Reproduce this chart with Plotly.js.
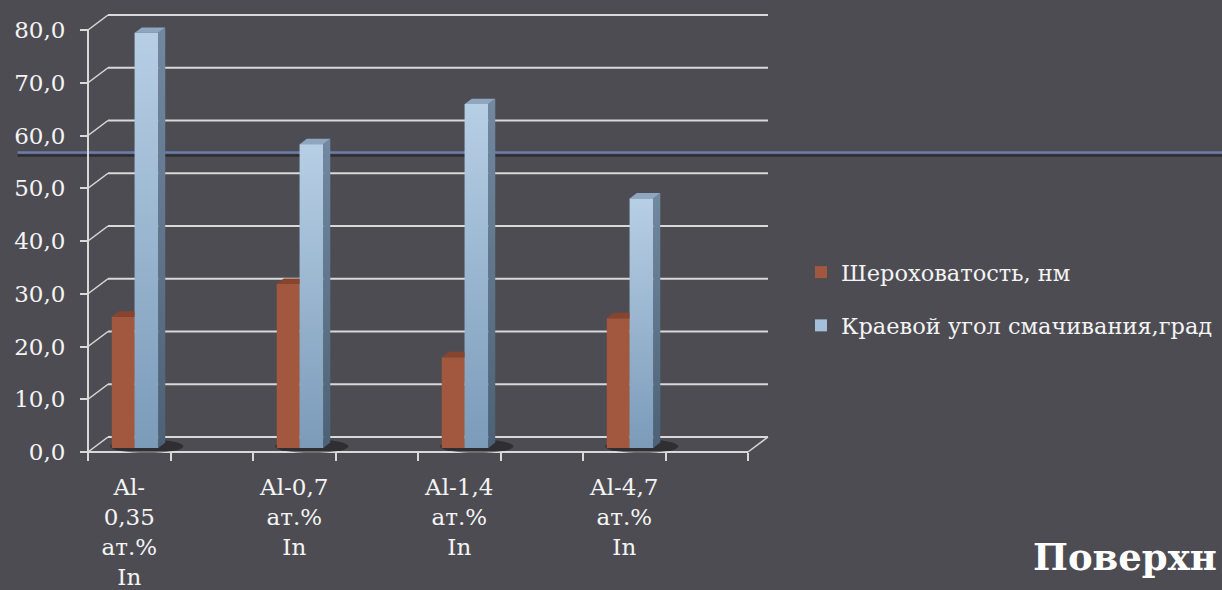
<!DOCTYPE html>
<html><head><meta charset="utf-8">
<script src="https://cdn.plot.ly/plotly-3.0.1.min.js"></script>
<style>html,body{margin:0;padding:0;background:#4d4c53;}#chart{width:1222px;height:590px;}</style>
</head><body><div id="chart"></div>
<script>
// ---- data ----
const categories = ['Al-<br>0,35<br>ат.%<br>In', 'Al-0,7<br>ат.%<br>In', 'Al-1,4<br>ат.%<br>In', 'Al-4,7<br>ат.%<br>In'];
const roughness = [24.9, 31.1, 17.2, 24.6];
const contactAngle = [78.7, 57.6, 65.2, 47.3];
const seriesNames = ['Шероховатость, нм', 'Краевой угол смачивания,град'];
const yTickValues = [0, 10, 20, 30, 40, 50, 60, 70, 80];
const titleText = 'Поверхн';

// ---- geometry (pixel-based 3D offsets converted into axis units) ----
const PXX = 82.5, PXY = 5.275;
const slotsPerCat = 2;
const nSlots = categories.length * slotsPerCat;
const xPos = categories.map((c, i) => i * slotsPerCat);
const wallDX = 20 / PXX, wallDY = 15 / PXY;
const barBase = 4 / PXY;
const barDX = 7 / PXX, barDY = 5.4 / PXY;
const brownOff = -17.5 / PXX, brownW = 23 / PXX;
const blueOff = 5.5 / PXX, blueW = 23.5 / PXX;
const yMaxVal = Math.max(...yTickValues);
const xr0 = -0.5 - 2 / PXX, xr1 = nSlots - 0.5 + 22 / PXX;
const yr0 = -2 / PXY, yr1 = (452 - 14) / PXY;
const gridCol = '#d9d9d9';

const traces = [];
traces.push({type: 'bar', x: xPos, y: roughness, base: barBase, offset: brownOff, width: brownW,
  marker: {color: '#a2583e', line: {width: 0}}, name: seriesNames[0], legendgroup: 'a', hoverinfo: 'y'});
traces.push({type: 'bar', x: xPos, y: contactAngle, base: barBase, offset: blueOff, width: blueW,
  marker: {color: '#a3bfd9', line: {width: 0}}, name: seriesNames[1], legendgroup: 'b', hoverinfo: 'y'});

function poly(pts, color, grad) {
  const t = {type: 'scatter', mode: 'none', fill: 'toself', x: pts.map(p => p[0]), y: pts.map(p => p[1]),
    fillcolor: color, showlegend: false, hoverinfo: 'skip'};
  if (grad) t.fillgradient = {type: 'vertical', colorscale: grad};
  return t;
}
xPos.forEach((xc, i) => {
  const bl = xc + brownOff, br = bl + brownW, bt = barBase + roughness[i];
  traces.push(poly([[bl, bt], [bl + barDX, bt + barDY], [br + barDX, bt + barDY], [br, bt]], '#87452f'));
  const x0 = xc + blueOff, x1 = x0 + blueW, y0 = barBase, y1 = barBase + contactAngle[i];
  traces.push(poly([[x0, y0], [x1, y0], [x1, y1], [x0, y1]], '#9ab6d1', [[0, '#7b9bb9'], [1, '#b7cfe5']]));
  traces.push(poly([[x1, y0], [x1 + barDX, y0 + barDY], [x1 + barDX, y1 + barDY], [x1, y1]], '#5f788f', [[0, '#4c6175'], [1, '#7189a1']]));
  traces.push(poly([[x0, y1], [x0 + barDX, y1 + barDY], [x1 + barDX, y1 + barDY], [x1, y1]], '#8ea6be'));
});

const shapes = [];
shapes.push({type: 'line', xref: 'paper', yref: 'paper', x0: -0.1, x1: 1.7, y0: (454 - 155.5) / 440, y1: (454 - 155.5) / 440,
  line: {color: '#2c2c31', width: 2.5}, layer: 'below'});
shapes.push({type: 'line', xref: 'paper', yref: 'paper', x0: -0.1, x1: 1.7, y0: (454 - 152.5) / 440, y1: (454 - 152.5) / 440,
  line: {color: '#6b7cab', width: 2.5}, layer: 'below'});
yTickValues.forEach(v => {
  shapes.push({type: 'line', xref: 'x', yref: 'y', x0: -0.5 + wallDX, x1: nSlots - 0.5 + wallDX, y0: v + wallDY, y1: v + wallDY,
    line: {color: gridCol, width: 2}, layer: 'below'});
  shapes.push({type: 'line', xref: 'x', yref: 'y', x0: -0.5, x1: -0.5 + wallDX, y0: v, y1: v + wallDY,
    line: {color: gridCol, width: 1.5}, layer: 'below'});
});
shapes.push({type: 'line', xref: 'x', yref: 'y', x0: -0.5, x1: -0.5, y0: 0, y1: yMaxVal, line: {color: gridCol, width: 2}, layer: 'below'});
shapes.push({type: 'line', xref: 'x', yref: 'y', x0: -0.5, x1: nSlots - 0.5, y0: 0, y1: 0, line: {color: gridCol, width: 2}, layer: 'below'});
shapes.push({type: 'line', xref: 'x', yref: 'y', x0: nSlots - 0.5, x1: nSlots - 0.5 + wallDX, y0: 0, y1: wallDY, line: {color: gridCol, width: 1.5}, layer: 'below'});
xPos.forEach(xc => {
  shapes.push({type: 'circle', xref: 'x', yref: 'y', x0: xc + brownOff - 0.02, x1: xc + blueOff + blueW + barDX + 0.22,
    y0: -0.2, y1: barBase + 1.6, fillcolor: 'rgba(22,22,26,0.55)', line: {width: 0}, layer: 'below'});
});

const boundaries = [];
for (let k = 0; k <= nSlots; k++) boundaries.push(k - 0.5);

const layout = {
  width: 1222, height: 590,
  paper_bgcolor: '#4d4c53', plot_bgcolor: 'rgba(0,0,0,0)',
  margin: {l: 86, r: 452, t: 14, b: 136, autoexpand: false},
  separators: ', ',
  barmode: 'overlay',
  showlegend: true,
  xaxis: {range: [xr0, xr1], tickmode: 'array', tickvals: xPos, ticktext: categories, ticks: '',
    showgrid: false, zeroline: false, showline: false, anchor: 'free', position: 2 / 440,
    tickfont: {family: 'DejaVu Serif', size: 23, color: '#f4f4f4'}, ticklabelstandoff: 19,
    minor: {tickmode: 'array', tickvals: boundaries, ticks: 'outside', ticklen: 8, tickwidth: 2, tickcolor: gridCol, showgrid: false}},
  yaxis: {range: [yr0, yr1], tickmode: 'array', tickvals: yTickValues, tickformat: '.1f', ticks: 'outside', ticklen: 8,
    tickwidth: 2, tickcolor: gridCol, showgrid: false, zeroline: false, showline: false, anchor: 'free', position: 2 / 684,
    tickfont: {family: 'DejaVu Serif', size: 23, color: '#f4f4f4'}, ticklabelstandoff: 10},
  legend: {x: (801 - 86) / 684, xanchor: 'left', y: (454 - 299) / 440, yanchor: 'middle', bgcolor: 'rgba(0,0,0,0)',
    font: {family: 'DejaVu Serif', size: 22.5, color: '#f4f4f4'}, tracegroupgap: 21, traceorder: 'grouped'},
  shapes: shapes,
  annotations: [{text: '<b>' + titleText + '</b>', xref: 'paper', yref: 'paper', x: (1031 - 86) / 684, y: (454 - 557) / 440,
    xanchor: 'left', yanchor: 'middle', showarrow: false, font: {family: 'DejaVu Serif', size: 37, color: '#ffffff'}}]
};
Plotly.newPlot('chart', traces, layout, {displayModeBar: false, staticPlot: true});
</script></body></html>
